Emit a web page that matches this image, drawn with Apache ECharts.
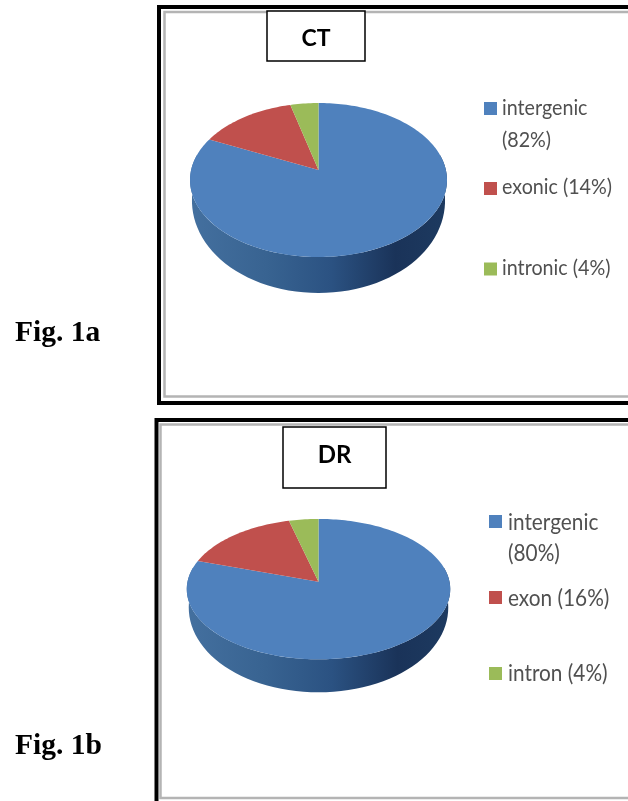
<!DOCTYPE html>
<html>
<head>
<meta charset="utf-8">
<style>
  html, body { margin: 0; padding: 0; background: #fff; }
  #chart { width: 628px; height: 801px; }
</style>
</head>
<body>
<div id="chart"></div>
<script src="https://cdn.jsdelivr.net/npm/echarts@6/dist/echarts.min.js"></script>
<script>
const colors = ["#4f81bd", "#c0504d", "#9bbb59"];
const ctValues = [82, 14, 4];
const ctLabels = [["intergenic", "(82%)"], ["exonic (14%)"], ["intronic (4%)"]];
const drValues = [80, 16, 4];
const drLabels = [["intergenic", "(80%)"], ["exon (16%)"], ["intron (4%)"]];

const panels = [
  {
    title: "CT", fig: "Fig. 1a", values: ctValues, labels: ctLabels,
    frame: { x: 159, y: 7, bottom: 403 }, inner: { x: 164.5, y: 12, bottom: 396.5 },
    box: { x: 267, y: 11, w: 98, h: 50 }, titleY: 39,
    pie: { cx: 318.5, cy: 170, a: 127.4, b: 75.7, w: -0.13, depth: 36 },
    figPos: { x: 15, y: 333 }, titleSize: 23,
    swatch: { x: 484, size: 13, ys: [108.5, 188.5, 269] }, textX: 502, textSize: 19.7,
    lineYs: [[108, 140], [187], [268]]
  },
  {
    title: "DR", fig: "Fig. 1b", values: drValues, labels: drLabels,
    frame: { x: 156.5, y: 420, bottom: 830 }, inner: { x: 160.5, y: 424.5, bottom: 798 },
    box: { x: 283, y: 427, w: 103, h: 61 }, titleY: 455,
    pie: { cx: 318.5, cy: 581.7, a: 131, b: 69.4, w: -0.106, depth: 33 },
    figPos: { x: 15, y: 746 }, titleSize: 24,
    swatch: { x: 489, size: 13, ys: [521.5, 597.5, 673.5] }, textX: 508, textSize: 20.8,
    lineYs: [[522, 553], [598], [673]]
  }
];

// flat disc seen in perspective: theta is clockwise from the top
function discPoint(p, theta) {
  const u = Math.sin(theta), v = -Math.cos(theta);
  const k = 1 + p.w * v;
  return [p.cx + p.a * u / k, p.cy + p.b * v / k];
}

function sliceSeries(panel) {
  const total = panel.values.reduce((s, v) => s + v, 0);
  return {
    type: "custom",
    coordinateSystem: "none",
    silent: true,
    z: 3,
    data: panel.values.map((v, i) => ({ value: v, name: panel.labels[i].join(" ") })),
    renderItem(params, api) {
      let before = 0;
      for (let i = 0; i < params.dataIndex; i++) before += panel.values[i];
      const start = (before / total) * 2 * Math.PI;
      const end = ((before + api.value(0)) / total) * 2 * Math.PI;
      const points = [[panel.pie.cx, panel.pie.cy]];
      const steps = Math.max(6, Math.ceil((end - start) * 40));
      for (let i = 0; i <= steps; i++) {
        points.push(discPoint(panel.pie, start + ((end - start) * i) / steps));
      }
      return {
        type: "polygon",
        shape: { points },
        style: { fill: colors[params.dataIndex] }
      };
    }
  };
}

// rim of the first slice, it covers the whole front of the disc
function wallSeries(panel) {
  return {
    type: "custom",
    coordinateSystem: "none",
    silent: true,
    z: 2,
    data: [panel.values[0]],
    renderItem() {
      const p = panel.pie;
      const top = [], bottom = [];
      for (let deg = 78; deg <= 282; deg += 3) {
        const theta = (deg * Math.PI) / 180;
        const pt = discPoint(p, theta);
        top.push(pt);
        // the rim looks thinner at the sides than at the front
        const drop = p.depth * (0.5 - 0.5 * Math.cos(theta));
        bottom.unshift([p.cx + (pt[0] - p.cx) * 0.985, pt[1] + drop]);
      }
      return {
        type: "polygon",
        shape: { points: top.concat(bottom) },
        style: {
          fill: new echarts.graphic.LinearGradient(0, 0, 1, 0, [
            { offset: 0, color: "#44709f" },
            { offset: 0.3, color: "#386391" },
            { offset: 0.55, color: "#2b5282" },
            { offset: 0.8, color: "#1a3359" },
            { offset: 1, color: "#1d3a60" }
          ])
        }
      };
    }
  };
}

function panelGraphics(panel) {
  const items = [
    {
      type: "rect",
      shape: { x: panel.frame.x, y: panel.frame.y, width: 600, height: panel.frame.bottom - panel.frame.y },
      style: { fill: "#fff", stroke: "#000", lineWidth: 4 }
    },
    {
      type: "rect",
      shape: { x: panel.inner.x, y: panel.inner.y, width: 600, height: panel.inner.bottom - panel.inner.y },
      style: { fill: "#fff", stroke: "#b4b4b4", lineWidth: 2.5 }
    },
    {
      type: "rect", z: 5,
      shape: { x: panel.box.x, y: panel.box.y, width: panel.box.w, height: panel.box.h },
      style: { fill: "#fff", stroke: "#000", lineWidth: 1.5 }
    },
    {
      type: "text", z: 6,
      x: panel.box.x + panel.box.w / 2, y: panel.titleY,
      style: {
        text: panel.title, fill: "#000", align: "center", verticalAlign: "middle",
        font: "bold " + panel.titleSize + "px Lato"
      }
    },
    {
      type: "text", z: 6,
      x: panel.figPos.x, y: panel.figPos.y,
      style: {
        text: panel.fig, fill: "#000", align: "left", verticalAlign: "middle",
        font: "bold 29.5px 'Liberation Serif'"
      }
    }
  ];
  panel.labels.forEach((lines, i) => {
    items.push({
      type: "rect", z: 6,
      shape: {
        x: panel.swatch.x, y: panel.swatch.ys[i] - panel.swatch.size / 2,
        width: panel.swatch.size, height: panel.swatch.size
      },
      style: { fill: colors[i] }
    });
    lines.forEach((line, j) => {
      items.push({
        type: "text", z: 6,
        x: panel.textX, y: panel.lineYs[i][j],
        scaleY: 1.12,
        style: {
          text: line, fill: "#505050", align: "left", verticalAlign: "middle",
          font: panel.textSize + "px Lato"
        }
      });
    });
  });
  return items;
}

const chart = echarts.init(document.getElementById("chart"));
chart.setOption({
  animation: false,
  backgroundColor: "#fff",
  graphic: { elements: panelGraphics(panels[0]).concat(panelGraphics(panels[1])) },
  series: panels.flatMap(p => [wallSeries(p), sliceSeries(p)])
});
</script>
</body>
</html>
